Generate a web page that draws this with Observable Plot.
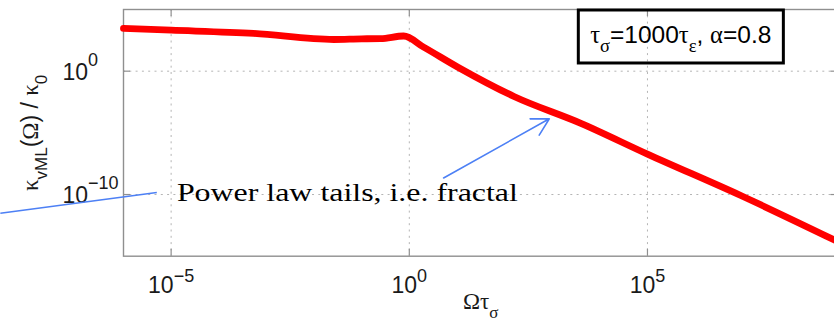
<!DOCTYPE html>
<html>
<head>
<meta charset="utf-8">
<script src="https://cdn.jsdelivr.net/npm/d3@7"></script>
<script src="https://cdn.jsdelivr.net/npm/@observablehq/plot@0.6"></script>
<style>
  html, body { margin: 0; padding: 0; background: #fff; overflow: hidden; }
</style>
</head>
<body>
<div id="chart"></div>
<script>
// Normalised spectrum κvML(Ω)/κ0 against dimensionless frequency Ωτσ
const omegaTau = [1e-6, 1e-5, 5.4e-4, 2.6e-2, 0.1, 0.25, 0.76, 2.0, 10.5, 158, 4.0e3, 1.0e5, 9.1e6, 1e9];
const kappa    = [2.9e3, 2.1e3, 1.15e3, 3.7e2, 4.2e2, 4.3e2, 7.1e2, 89, 2.1, 8.9e-3, 5.9e-5, 1.9e-7, 8.3e-11, 1.5e-14];

// Axis ticks and their labels ("^{...}" marks a superscript)
const xTicks = [1e-5, 1, 1e5];
const xTickLabels = ["10^{−5}", "10^{0}", "10^{5}"];
const yTicks = [1, 1e-10];
const yTickLabels = ["10^{0}", "10^{−10}"];

// Axis titles ("_{...}" marks a subscript)
const xTitle = "Ωτ_{σ}";
const yTitle = "κ_{vML}(Ω) / κ_{0}";

// Parameter box
const paramText = "τ_{σ}=1000τ_{ε}, α=0.8";
const paramBox = {x1: 3.62e3, x2: 7.3e7, y1: 4.2, y2: 8.3e4};
const paramAt = {x: 5.0e5, y: 2.1e2};

// Annotation and its two pointers
const noteText = "Power law tails, i.e. fractal";
const noteAt = {x: 1.32e-5, y: 3.2e-11};
const pointerLeft = {x1: 2.6e-9, y1: 3.0e-12, x2: 5.0e-6, y2: 1.45e-10};
const pointerRight = {x1: 5.25, y1: 2.2e-9, x2: 8.7e2, y2: 1.38e-4};

const data = omegaTau.map((w, i) => ({w, k: kappa[i]}));

const W = 840, H = 332;
const mT = 9, mB = 76.3, mL = 123, mR = 2.5;
const frameH = H - mT - mB, frameW = W - mL - mR;
const tickLen = 7;
const sans = "'Liberation Sans', Arial, Helvetica, sans-serif";
const serif = "'Liberation Serif', 'Times New Roman', serif";
const gridStyle = {stroke: "#b4b4b4", strokeOpacity: 1, strokeWidth: 1, strokeDasharray: "2,4.3"};
const tickStyle = {stroke: "#8f8f8f", strokeWidth: 1.2};
const tag = (name) => ({className: name, ariaDescription: name});

const chart = Plot.plot({
  width: W,
  height: H,
  marginTop: mT,
  marginBottom: mB,
  marginLeft: mL,
  marginRight: mR,
  style: {maxWidth: "none", overflow: "visible", background: "white", fontFamily: sans},
  x: {type: "log", domain: [1e-6, 1e9], axis: null},
  y: {type: "log", domain: [1e-15, 1e5], axis: null},
  marks: [
    Plot.gridX(xTicks, {...gridStyle}),
    Plot.gridY(yTicks, {...gridStyle}),
    // inward ticks on all four sides
    Plot.tickX(xTicks, {x: d => d, insetTop: frameH - tickLen, ...tickStyle}),
    Plot.tickX(xTicks, {x: d => d, insetBottom: frameH - tickLen, ...tickStyle}),
    Plot.tickY(yTicks, {y: d => d, insetRight: frameW - tickLen, ...tickStyle}),
    Plot.tickY(yTicks, {y: d => d, insetLeft: frameW - tickLen, ...tickStyle}),
    Plot.frame({stroke: "#8f8f8f", strokeWidth: 1.4}),
    Plot.line(data, {x: "w", y: "k", curve: "monotone-x", stroke: "#ff0000", strokeWidth: 6.8, strokeLinejoin: "round"}),
    // tick labels
    Plot.text(xTicks, {x: d => d, text: (d, i) => xTickLabels[i], frameAnchor: "bottom", dy: 37, lineAnchor: "bottom",
      textAnchor: "middle", fontSize: 23, fill: "#1a1a1a", ...tag("xtl")}),
    Plot.text(yTicks, {y: d => d, text: (d, i) => yTickLabels[i], frameAnchor: "left", dx: -61, dy: 8.5, lineAnchor: "bottom",
      textAnchor: "start", fontSize: 23, fill: "#1a1a1a", ...tag("ytl")}),
    // axis titles
    Plot.text([xTitle], {frameAnchor: "bottom", dy: 52.3, lineAnchor: "bottom", textAnchor: "middle",
      fontSize: 23, fill: "#1a1a1a", ...tag("xtitle")}),
    Plot.text([yTitle], {frameAnchor: "left", dx: -86, rotate: -90, lineAnchor: "bottom", textAnchor: "middle",
      fontSize: 23, fill: "#1a1a1a", ...tag("ytitle")}),
    // parameter box
    Plot.rect([paramBox], {x1: "x1", x2: "x2", y1: "y1", y2: "y2", fill: "none", stroke: "black", strokeWidth: 3}),
    Plot.text([paramText], {x: () => paramAt.x, y: () => paramAt.y, lineAnchor: "bottom", textAnchor: "middle",
      fontSize: 24.5, fill: "black", ...tag("param")}),
    // annotation
    Plot.link([pointerLeft], {x1: "x1", y1: "y1", x2: "x2", y2: "y2", stroke: "#4d80f5", strokeWidth: 1.6}),
    Plot.arrow([pointerRight], {x1: "x1", y1: "y1", x2: "x2", y2: "y2", stroke: "#4d80f5", strokeWidth: 1.6,
      headLength: 18, headAngle: 58}),
    Plot.text([noteText], {x: () => noteAt.x, y: () => noteAt.y, lineAnchor: "bottom", textAnchor: "start",
      fontSize: 26, fontFamily: serif, fill: "black", ...tag("note")})
  ]
});

const pick = (name) => d3.select(chart).selectAll(`g[aria-description="${name}"] text, g.${name} text`);

// Turn "_{..}" / "^{..}" markup into shifted tspans; Greek letters use a serif face
function richText(name, size, small, subShift, supShift) {
  pick(name).each(function () {
    const el = d3.select(this);
    const src = this.textContent;
    if (el.select("tspan").size()) return;
    el.text(null);
    let shift = 0;
    const re = /([_^])\{([^}]*)\}|([^_^]+)/g;
    let m;
    while ((m = re.exec(src))) {
      const level = m[1] === "_" ? subShift : m[1] === "^" ? -supShift : 0;
      const str = m[1] ? m[2] : m[3];
      const fs = m[1] ? small : size;
      const runs = str.match(/[\u0370-\u03ff]+|[^\u0370-\u03ff]+/g) || [];
      runs.forEach((run, k) => {
        const t = el.append("tspan").text(run).attr("font-size", fs);
        if (k === 0 && level !== shift) { t.attr("dy", level - shift); shift = level; }
        if (/[\u0370-\u03ff]/.test(run)) t.attr("font-family", serif);
      });
    }
  });
}
richText("xtl", 23, 18, 0, 11);
richText("ytl", 23, 18, 0, 14);
richText("xtitle", 23, 17, 9, 0);
richText("ytitle", 23, 17, 9, 0);
richText("param", 24.5, 18.5, 9, 0);
pick("note").attr("textLength", 341).attr("lengthAdjust", "spacingAndGlyphs");

document.getElementById("chart").appendChild(chart);
</script>
</body>
</html>
